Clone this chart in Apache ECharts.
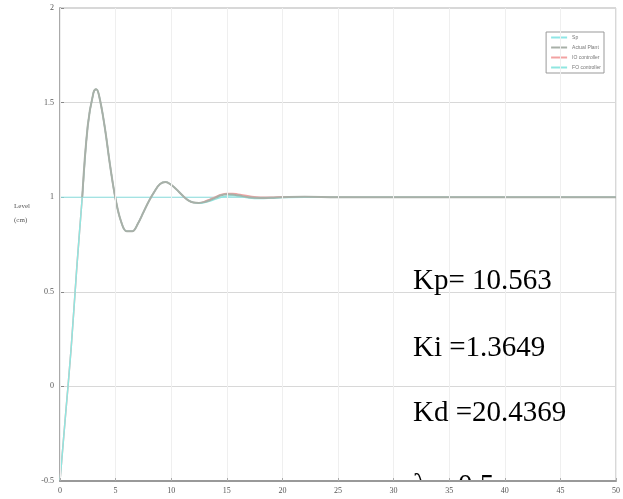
<!DOCTYPE html>
<html>
<head>
<meta charset="utf-8">
<script src="https://cdn.jsdelivr.net/npm/echarts@6/dist/echarts.min.js"></script>
<style>html,body{margin:0;padding:0;background:#fff}#c{width:623px;height:499px}</style>
</head>
<body>
<div id="c"></div>
<script>
const times = [0,0.5,1,1.5,2,2.5,3,3.25,3.5,4,4.5,5,5.5,6,6.5,7,7.5,8,8.5,9,9.5,10,10.5,11,11.5,12,12.5,13,13.5,14,14.5,15,15.5,16,17,18,19,20,22,25,30,35,40,45,50];
const plant = [-0.5,-0.15,0.2,0.62,1.0,1.38,1.55,1.57,1.54,1.38,1.17,0.99,0.87,0.82,0.82,0.86,0.92,0.98,1.03,1.07,1.08,1.065,1.04,1.01,0.985,0.972,0.97,0.975,0.985,0.998,1.01,1.015,1.014,1.01,1.0,0.996,0.997,1.0,1.002,1.0,1.0,1.0,1.0,1.0,1.0];
const ioCtrl = [-0.5,-0.15,0.2,0.62,1.0,1.38,1.55,1.57,1.54,1.38,1.17,0.99,0.87,0.82,0.82,0.86,0.92,0.98,1.03,1.07,1.08,1.065,1.04,1.01,0.985,0.972,0.97,0.977,0.99,1.003,1.015,1.02,1.02,1.016,1.006,1.0,1.0,1.002,1.003,1.001,1.0,1.0,1.0,1.0,1.0];
const foCtrl = [-0.5,-0.15,0.2,0.62,1.0,1.38,1.55,1.57,1.54,1.38,1.17,0.99,0.87,0.82,0.82,0.86,0.92,0.98,1.03,1.07,1.08,1.065,1.04,1.01,0.985,0.972,0.968,0.972,0.98,0.99,1.0,1.006,1.008,1.005,0.996,0.993,0.995,0.998,1.0,1.0,1.0,1.0,1.0,1.0,1.0];
const setpoint = [1,1];
const setTimes = [0,50];
const xTicks = [0,5,10,15,20,25,30,35,40,45,50];
const yTicks = [-0.5,0,0.5,1,1.5,2];
const legendNames = ['Sp','Actual Plant','IO controller','FO controller'];
const gains = ['Kp= 10.563','Ki =1.3649','Kd =20.4369','\u03bb = 0.5'];

const pair = (xs, ys) => xs.map((x, i) => [x, ys[i]]);
const plantData = pair(times, plant).filter(p => p[0] >= 2);

const chart = echarts.init(document.getElementById('c'));
chart.setOption({
  animation: false,
  backgroundColor: '#fff',
  grid: {left: 60, right: 7, top: 8, bottom: 18, show: true, borderColor: '#b0b0b0', borderWidth: 1},
  xAxis: {
    type: 'value', min: 0, max: 50, interval: 5, z: 10,
    axisLine: {show: true, onZero: false, lineStyle: {color: '#999', width: 2}},
    axisTick: {show: true, inside: true, length: 3, lineStyle: {color: '#aaa'}},
    axisLabel: {color: '#555', fontSize: 8, fontFamily: 'Liberation Serif', margin: 6},
    splitLine: {show: true, lineStyle: {color: '#efefef', width: 1}}
  },
  yAxis: {
    type: 'value', min: -0.5, max: 2, interval: 0.5,
    axisLine: {show: true, onZero: false, lineStyle: {color: '#aaa', width: 2}},
    axisTick: {show: true, inside: true, length: 4, lineStyle: {color: '#888'}},
    axisLabel: {color: '#555', fontSize: 8, fontFamily: 'Liberation Serif', margin: 6},
    splitLine: {show: true, lineStyle: {color: '#d8d8d8', width: 1}}
  },
  legend: {
    orient: 'vertical', right: 19, top: 32, itemWidth: 16, itemHeight: 2, itemGap: 5,
    padding: [3, 3, 3, 5], borderColor: '#999', borderWidth: 1, backgroundColor: '#fff',
    icon: 'rect',
    textStyle: {fontSize: 5, color: '#777', fontFamily: 'Liberation Sans'},
    data: legendNames
  },
  series: [
    {name: legendNames[0], type: 'line', data: pair(setTimes, setpoint), showSymbol: false, lineStyle: {color: '#8fe6e6', width: 1}, itemStyle: {color: '#8fe6e6'}, z: 2},
    {name: legendNames[2], type: 'line', data: pair(times, ioCtrl), smooth: 0.4, showSymbol: false, lineStyle: {color: '#f2a2a2', width: 1.5}, itemStyle: {color: '#f2a2a2'}, z: 3},
    {name: legendNames[3], type: 'line', data: pair(times, foCtrl), smooth: 0.4, showSymbol: false, lineStyle: {color: '#8fe6e0', width: 1.5}, itemStyle: {color: '#8fe6e0'}, z: 4},
    {name: legendNames[1], type: 'line', data: plantData, smooth: 0.4, showSymbol: false, lineStyle: {color: '#a8b0a8', width: 2}, itemStyle: {color: '#a8b0a8'}, z: 5}
  ],
  graphic: [
    {type: 'text', left: 14, top: 199, style: {text: 'Level\n(cm)', font: '7px "Liberation Serif"', fill: '#555', lineHeight: 14}},
    {type: 'text', left: 413, top: 267, z: 20, style: {text: gains[0], font: '29px "Liberation Serif"', fill: '#000'}},
    {type: 'text', left: 413, top: 334, z: 20, style: {text: gains[1], font: '29px "Liberation Serif"', fill: '#000'}},
    {type: 'text', left: 413, top: 399, z: 20, style: {text: gains[2], font: '29px "Liberation Serif"', fill: '#000'}},
    {type: 'text', left: 413, top: 472, z: 1, style: {text: gains[3], font: '29px "Liberation Serif"', fill: '#000'}},
    {type: 'rect', shape: {x: 380, y: 482, width: 243, height: 17}, z: 2, style: {fill: '#fff'}}
  ]
});
</script>
</body>
</html>
